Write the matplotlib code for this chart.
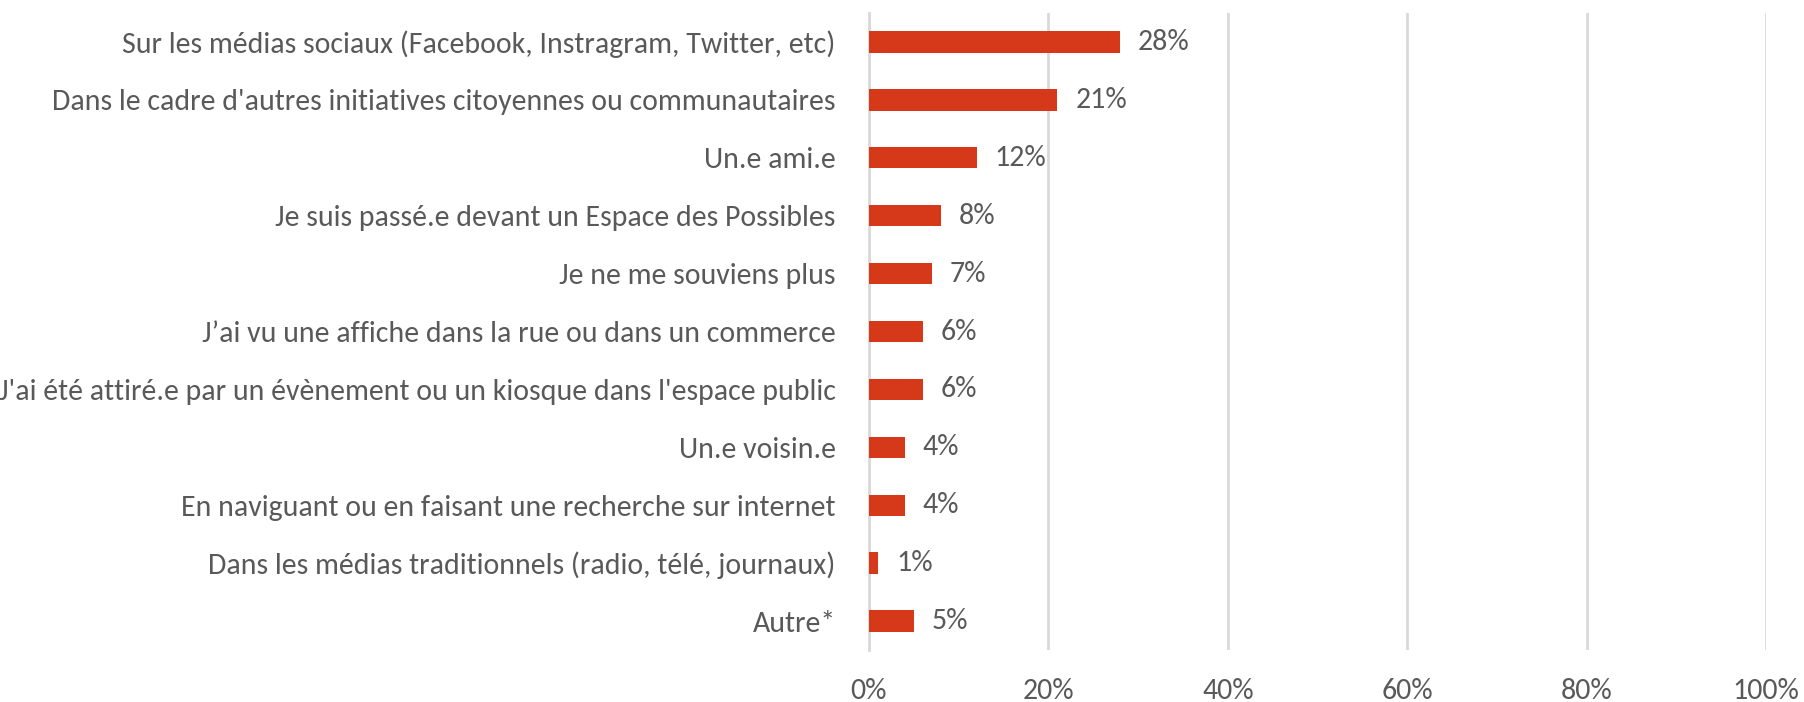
import numpy as np
import matplotlib.pyplot as plt
from matplotlib.ticker import FuncFormatter

labels = [
    "Sur les médias sociaux (Facebook, Instragram, Twitter, etc)",
    "Dans le cadre d'autres initiatives citoyennes ou communautaires",
    "Un.e ami.e",
    "Je suis passé.e devant un Espace des Possibles",
    "Je ne me souviens plus",
    "J\u2019ai vu une affiche dans la rue ou dans un commerce",
    "J'ai été attiré.e par un évènement ou un kiosque dans l'espace public",
    "Un.e voisin.e",
    "En naviguant ou en faisant une recherche sur internet",
    "Dans les médias traditionnels (radio, télé, journaux)",
    "Autre*",
]
values = [28, 21, 12, 8, 7, 6, 6, 4, 4, 1, 5]
xticks = [0, 20, 40, 60, 80, 100]

plt.rcParams['font.family'] = ['Carlito', 'DejaVu Sans']
grey = '#595959'
red = '#D5391A'
fs = 21.5

fig = plt.figure(figsize=(18.04, 7.02), dpi=100)
ax = fig.add_axes([0.4817, 0.074, 0.4973, 0.9075])

y = np.arange(len(labels))
ax.barh(y, values, height=0.37, color=red, zorder=3)
for yi, v in zip(y, values):
    ax.text(v + 2.0, yi, '{}%'.format(v), va='center', ha='left',
            fontsize=fs, color=grey)

ax.set_xlim(0, 100)
ax.set_ylim(len(labels) - 0.5, -0.5)
ax.set_yticks(y)
ax.set_yticklabels(labels, fontsize=fs, color=grey)
ax.set_xticks(xticks)
ax.xaxis.set_major_formatter(FuncFormatter(lambda v, p: '{:.0f}%'.format(v)))
ax.tick_params(axis='x', labelsize=fs, colors=grey, length=0, pad=20)
ax.tick_params(axis='y', length=0, pad=24)
ax.grid(axis='x', color='#D9D9D9', linewidth=2, zorder=0)
for s in ['top', 'right', 'bottom']:
    ax.spines[s].set_visible(False)
ax.spines['left'].set_color('#D9D9D9')
ax.spines['left'].set_linewidth(2)

fig.savefig('out.png', dpi=100)
